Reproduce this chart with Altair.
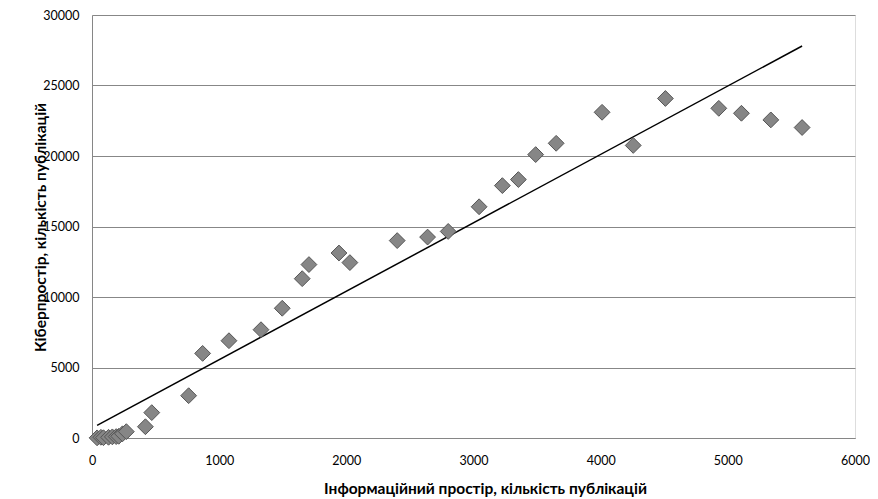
import altair as alt
import pandas as pd

info = [40, 70, 90, 130, 160, 190, 210, 240, 270, 420, 470, 760, 870, 1077, 1329, 1496,
        1653, 1706, 1942, 2028, 2400, 2639, 2801, 3044, 3227, 3353, 3489, 3650, 4011,
        4256, 4509, 4929, 5107, 5338, 5584]
cyber = [10, 50, 20, 50, 80, 100, 120, 300, 450, 800, 1800, 3000, 6000, 6900, 7680, 9200,
         11300, 12300, 13120, 12440, 14000, 14250, 14650, 16400, 17900, 18330, 20100, 20900,
         23100, 20750, 24080, 23380, 23030, 22560, 22020]

df = pd.DataFrame({"x": info, "y": cyber})

FONT = "Lato"
xs = alt.Scale(domain=[0, 6000], nice=False)
ys = alt.Scale(domain=[0, 30000], nice=False)

base = alt.Chart(df)

points = base.mark_point(
    shape="diamond", filled=True, size=250, fill="#868686", stroke="#555555",
    strokeWidth=1, opacity=1, clip=False
).encode(
    x=alt.X("x:Q", scale=xs, axis=alt.Axis(
        values=[0, 1000, 2000, 3000, 4000, 5000, 6000], format="d", grid=False, ticks=False,
        labelFlush=False, labelPadding=16, labelFontSize=12.5, labelFont=FONT,
        labelColor="#000000", domainColor="#868686",
        title="Інформаційний простір, кількість публікацій",
        titleFont=FONT, titleFontSize=15.5, titleFontWeight="bold", titleColor="#000000",
        titleX=393, titleY=50, titleBaseline="middle", titleAlign="center")),
    y=alt.Y("y:Q", scale=ys, axis=alt.Axis(
        values=[0, 5000, 10000, 15000, 20000, 25000, 30000], format="d", grid=True,
        gridColor="#878787", gridWidth=1, ticks=False, labelPadding=13, labelFlush=False,
        labelFontSize=12.5, labelFont=FONT, labelColor="#000000", domainColor="#868686",
        title="Кіберпростір, кількість публікацій", titleFont=FONT, titleFontSize=15.5,
        titleFontWeight="bold", titleColor="#000000", titleAngle=270,
        titleX=-52, titleY=212, titleBaseline="middle", titleAlign="center")),
)

trend = base.transform_regression("x", "y").mark_line(
    color="#000000", strokeWidth=1.5
).encode(x=alt.X("x:Q", scale=xs), y=alt.Y("y:Q", scale=ys))

chart = alt.layer(trend, points).properties(
    width=763, height=423,
    autosize=alt.AutoSizeParams(type="none"),
    padding={"left": 84, "top": 7, "right": 15, "bottom": 60},
).configure_view(stroke=None).configure(background="#ffffff")

chart.save("out.html", embed_options={"renderer": "svg", "actions": False})
